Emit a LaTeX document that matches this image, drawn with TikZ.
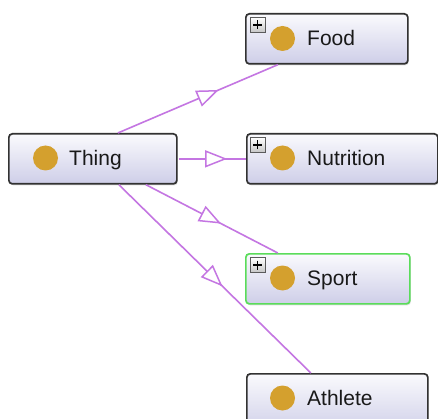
\documentclass[tikz,border=0pt]{standalone}
\usepackage{fontspec}
\setmainfont{Liberation Sans}
\usetikzlibrary{arrows.meta,decorations.markings,shadows,calc}
\definecolor{edgec}{RGB}{196,118,226}
\definecolor{boxtop}{RGB}{250,250,253}
\definecolor{boxbot}{RGB}{206,206,232}
\definecolor{boxline}{RGB}{50,50,50}
\definecolor{dotc}{RGB}{212,160,46}
\definecolor{selc}{RGB}{90,220,90}
\tikzset{
  box/.style={draw=boxline, line width=1.7pt, rounded corners=3.5pt, top color=boxtop, bottom color=boxbot,
    inner sep=0pt, anchor=north west, minimum height=50pt,
    drop shadow={shadow xshift=1pt, shadow yshift=-1.5pt, opacity=0.25}},
  dot/.style={circle, fill=dotc, draw=none, minimum size=25pt, inner sep=0pt},
  lbl/.style={anchor=base west, inner sep=0pt, font=\fontsize{21pt}{24pt}\selectfont, text=black!90},
  plusbox/.style={draw=boxline!80, line width=0.9pt, top color=white, bottom color=gray!45, minimum size=15pt, inner sep=0pt,
    path picture={\draw[line width=1.8pt, black] ($(path picture bounding box.center)+(-4.5,0)$) -- ++(9,0)
      ($(path picture bounding box.center)+(0,-4.5)$) -- ++(0,9);}},
  edge/.style={draw=edgec, line width=1.6pt},
  tri/.style={decoration={markings, mark=at position #1 with {\arrow{Triangle[length=22pt,width=17pt,fill=white,line width=1.5pt]}}}, postaction=decorate}
}
\begin{document}
\begin{tikzpicture}[x=1pt,y=-1pt]
\useasboundingbox (0,0) rectangle (438,419);
\clip (0,0) rectangle (438,419);
\fill[white] (0,0) rectangle (438,419);

% boxes
\node[box, minimum width=168pt] (thing) at (8,133) {};
\node[box, minimum width=162pt] (food) at (245,13) {};
\node[box, minimum width=191pt] (nutr) at (246,133) {};
\node[box, minimum width=164pt, draw=selc] (sport) at (245,253) {};
\node[box, minimum width=181pt, minimum height=60pt] (ath) at (246,373) {};

% edges
\draw[edge, tri=0.63] ($(thing.north)+(25,0)$) -- ($(food.south)+(-49,0)$);
\draw[edge, tri=0.72] ($(thing.east)+(1,0)$) -- (nutr.west);
\draw[edge, tri=0.57] ($(thing.south)+(53,0)$) -- ($(sport.north)+(-50,0)$);
\draw[edge, tri=0.54] ($(thing.south)+(26,0)$) -- ($(ath.north)+(-26.5,0)$);

% contents
\node[dot] (d1) at (45.5,158) {};
\node[lbl] (t1) at (69,165.7) {Thing};

\node[dot] (d2) at (282.5,38.5) {};
\node[lbl] (t2) at (307,46) {Food};
\node[plusbox] (p2) at (257.5,25) {};

\node[dot] (d3) at (282.5,158) {};
\node[lbl] (t3) at (307,165.7) {Nutrition};
\node[plusbox] (p3) at (257.5,145) {};

\node[dot] (d4) at (282.5,278) {};
\node[lbl] (t4) at (307,285.7) {Sport};
\node[plusbox] (p4) at (257.5,265) {};

\node[dot] (d5) at (282.5,398) {};
\node[lbl] (t5) at (307,405.7) {Athlete};
\end{tikzpicture}
\end{document}
